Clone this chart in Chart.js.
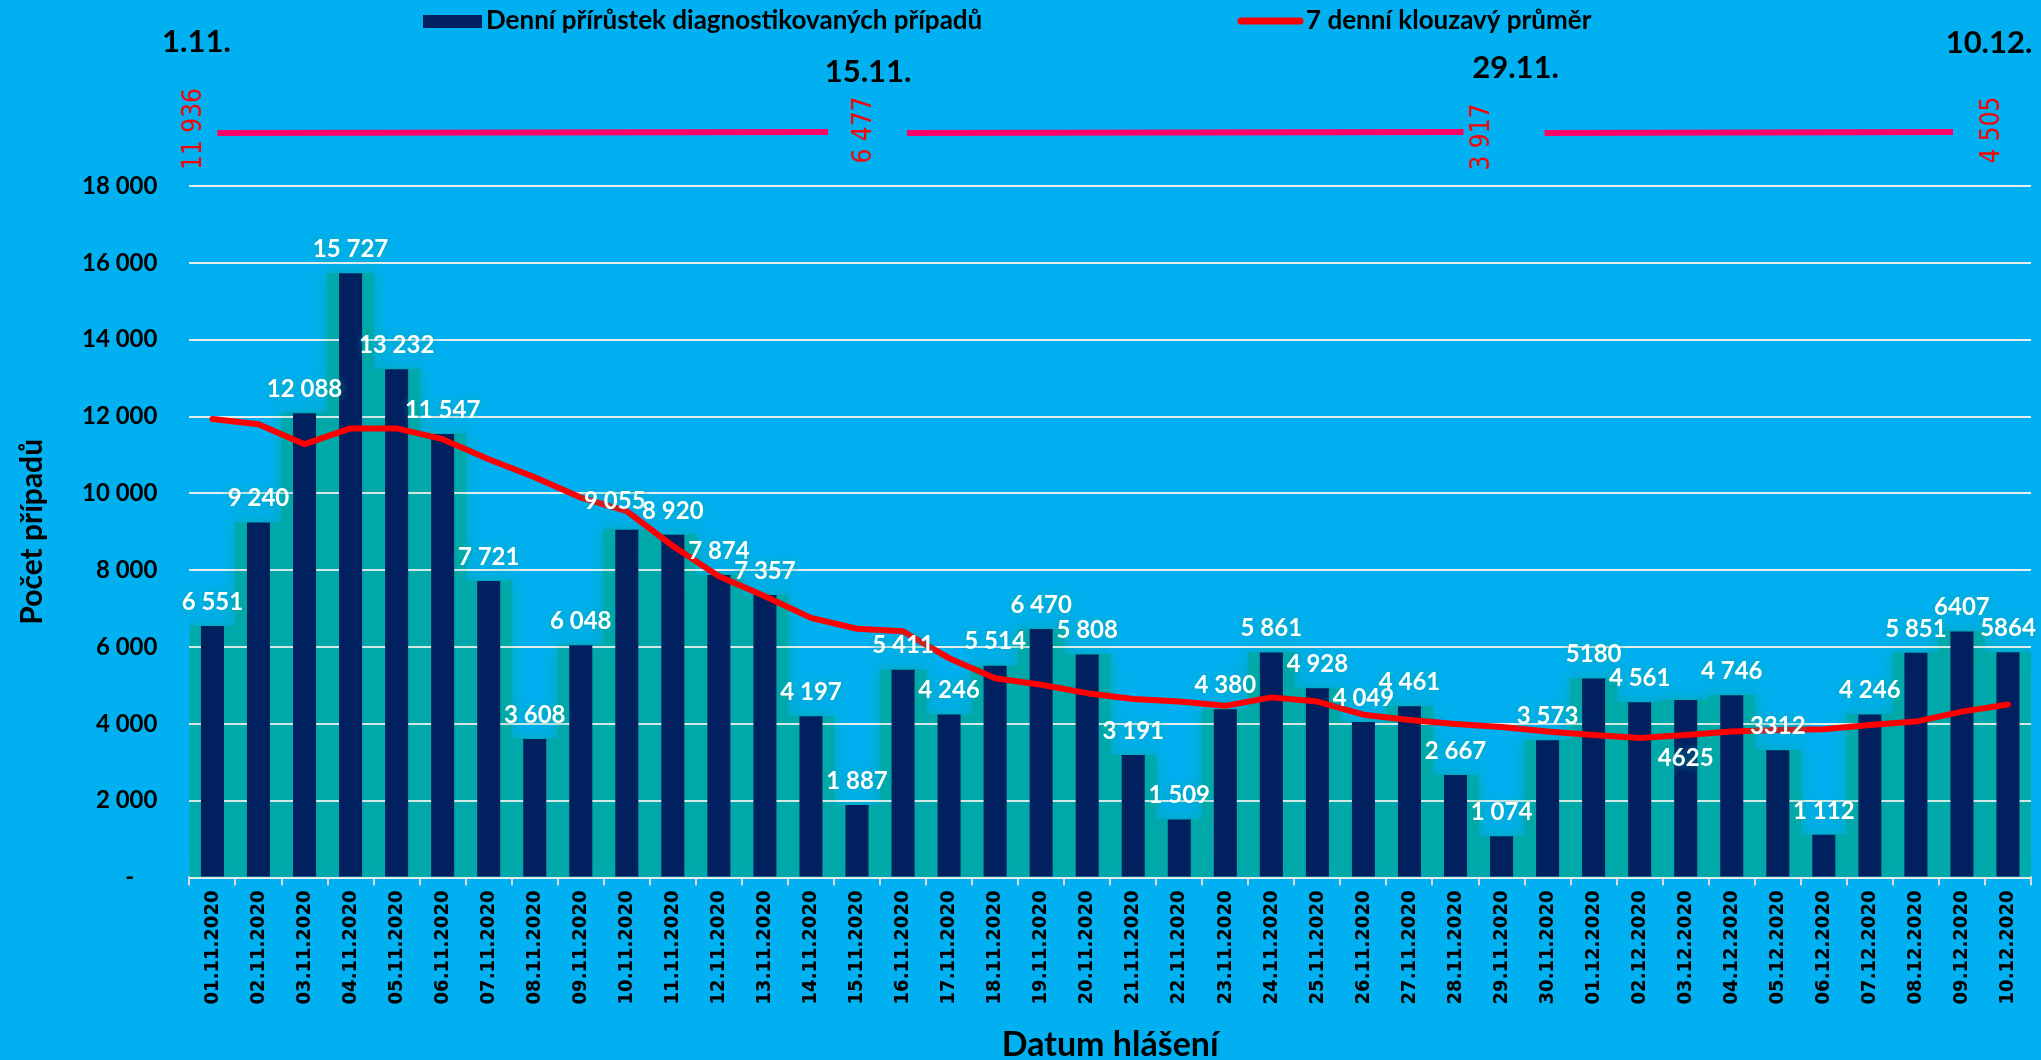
<!DOCTYPE html>
<html>
<head>
<meta charset="utf-8">
<script src="https://cdn.jsdelivr.net/npm/chart.js@4/dist/chart.umd.min.js"></script>
<style>
html, body { margin: 0; padding: 0; background: #00b0f0; overflow: hidden; }
canvas { display: block; }
</style>
</head>
<body>
<canvas id="chart" width="2041" height="1060"></canvas>
<script>
// data
const days = [
  "01.11.2020", "02.11.2020", "03.11.2020", "04.11.2020", "05.11.2020",
  "06.11.2020", "07.11.2020", "08.11.2020", "09.11.2020", "10.11.2020",
  "11.11.2020", "12.11.2020", "13.11.2020", "14.11.2020", "15.11.2020",
  "16.11.2020", "17.11.2020", "18.11.2020", "19.11.2020", "20.11.2020",
  "21.11.2020", "22.11.2020", "23.11.2020", "24.11.2020", "25.11.2020",
  "26.11.2020", "27.11.2020", "28.11.2020", "29.11.2020", "30.11.2020",
  "01.12.2020", "02.12.2020", "03.12.2020", "04.12.2020", "05.12.2020",
  "06.12.2020", "07.12.2020", "08.12.2020", "09.12.2020", "10.12.2020"
];
const cases = [
  6551, 9240, 12088, 15727, 13232, 11547, 7721, 3608, 6048, 9055,
  8920, 7874, 7357, 4197, 1887, 5411, 4246, 5514, 6470, 5808,
  3191, 1509, 4380, 5861, 4928, 4049, 4461, 2667, 1074, 3573,
  5180, 4561, 4625, 4746, 3312, 1112, 4246, 5851, 6407, 5864
];
const avg7 = [
  11936, 11800, 11280, 11690, 11690, 11410, 10890, 10420, 9890, 9540,
  8630, 7840, 7320, 6760, 6477, 6410, 5710, 5190, 5020, 4800,
  4650, 4580, 4470, 4690, 4580, 4240, 4100, 4000, 3917, 3800,
  3710, 3630, 3710, 3800, 3840, 3860, 3970, 4060, 4320, 4505
];
// labels written without the thousands space in the original
const plainLabels = [30, 32, 34, 38, 39];
// marked days at the top
const noteIdx = [0, 14, 28, 39];
const noteDates = ["1.11.", "15.11.", "29.11.", "10.12."];

const seriesNames = [
  "Denní přírůstek diagnostikovaných případů",
  "7 denní klouzavý průměr"
];

const NAVY = "#002060";
const TEAL = "rgba(0,168,166,0.9)";
const RED = "#ff0000";

function fmt(v){
    return String(v).replace(/\B(?=(\d{3})+(?!\d))/g, " ");
}

// teal glow behind bars, grid redrawn over it
const glowPlugin = {
    id: "glow",
    beforeDatasetDraw(chart, args){
        if(args.index === 0){
            chart.ctx.save();
            chart.ctx.shadowColor = "rgba(0,168,166,0.95)";
            chart.ctx.shadowBlur = 16;
        }
    },
    afterDatasetDraw(chart, args){
        if(args.index === 0){
            chart.ctx.restore();
            try {
                chart.scales.y.drawGrid(chart.chartArea);
            } catch(e){}
        }
    }
};

// value labels over bars
const barLabels = {
    id: "barLabels",
    afterDatasetsDraw(chart){
        const ctx = chart.ctx;
        const meta = chart.getDatasetMeta(1);
        ctx.save();
        ctx.font = "bold 24px Lato";
        ctx.textAlign = "center";
        ctx.textBaseline = "middle";
        ctx.fillStyle = "#ffffff";
        ctx.shadowColor = "rgba(0,168,166,0.9)";
        ctx.shadowBlur = 8;
        meta.data.forEach(function(bar, i){
            const v = cases[i];
            const text = plainLabels.includes(i) ? String(v) : fmt(v);
            let dx = 0;
            let dy = -24;
            if(i === 9){ dx = -12; dy = -28; }
            if(i === 32){ dy = 58; }
            ctx.fillText(text, bar.x + dx, bar.y + dy);
        });
        ctx.restore();
    }
};

// legend, dates and averages above the plot
const topNotes = {
    id: "topNotes",
    afterDraw(chart){
        const ctx = chart.ctx;
        const xs = chart.scales.x;
        ctx.save();

        // legend
        ctx.fillStyle = NAVY;
        ctx.fillRect(423, 15, 59, 13);
        ctx.strokeStyle = RED;
        ctx.lineWidth = 7;
        ctx.lineCap = "round";
        ctx.beginPath();
        ctx.moveTo(1241, 21);
        ctx.lineTo(1300, 21);
        ctx.stroke();
        ctx.fillStyle = "#000000";
        ctx.font = "bold 26px Lato";
        ctx.textAlign = "left";
        ctx.textBaseline = "middle";
        ctx.fillText(seriesNames[0], 486, 21);
        ctx.fillText(seriesNames[1], 1306, 21);

        const dateDx = [-16, 11, 14, -19];
        const dateY = [42, 72, 68, 43];
        const valDx = [-18, 7, -19, -16];
        const valY = [129, 130, 137, 130];
        const gaps = [[23, 36], [43, 19], [62, 39]];

        const valX = noteIdx.map(function(idx, k){
            return xs.getPixelForValue(idx) + valDx[k];
        });

        // pink connectors
        ctx.strokeStyle = "#ff0066";
        ctx.lineWidth = 6;
        ctx.lineCap = "butt";
        for(let k = 0; k < valX.length - 1; k++){
            ctx.beginPath();
            ctx.moveTo(valX[k] + gaps[k][0], 133);
            ctx.lineTo(valX[k + 1] - gaps[k][1], 132);
            ctx.stroke();
        }

        // dates
        ctx.fillStyle = "#000000";
        ctx.font = "bold 31px Lato";
        ctx.textAlign = "center";
        noteIdx.forEach(function(idx, k){
            ctx.fillText(noteDates[k], xs.getPixelForValue(idx) + dateDx[k], dateY[k]);
        });

        // rotated average values
        ctx.fillStyle = RED;
        ctx.font = "26px 'DejaVu Sans Condensed', 'DejaVu Sans'";
        noteIdx.forEach(function(idx, k){
            ctx.save();
            ctx.translate(valX[k], valY[k]);
            ctx.rotate(-Math.PI / 2);
            ctx.fillText(fmt(avg7[idx]), 0, 0);
            ctx.restore();
        });

        ctx.restore();
    }
};

document.addEventListener("DOMContentLoaded", function(){
    const ctx = document.getElementById("chart").getContext("2d");
    new Chart(ctx, {
        type: "bar",
        data: {
            labels: days,
            datasets: [
                {
                    label: "glow",
                    data: cases,
                    backgroundColor: TEAL,
                    grouped: false,
                    barPercentage: 1,
                    categoryPercentage: 1,
                    order: 3
                },
                {
                    label: seriesNames[0],
                    data: cases,
                    backgroundColor: NAVY,
                    grouped: false,
                    barPercentage: 0.5,
                    categoryPercentage: 1,
                    order: 2
                },
                {
                    type: "line",
                    label: seriesNames[1],
                    data: avg7,
                    borderColor: RED,
                    borderWidth: 6,
                    pointRadius: 0,
                    tension: 0,
                    borderJoinStyle: "round",
                    borderCapStyle: "round",
                    order: 1
                }
            ]
        },
        options: {
            responsive: false,
            animation: false,
            devicePixelRatio: 1,
            layout: {
                padding: { top: 186, right: 10, left: 10, bottom: 0 }
            },
            plugins: {
                legend: { display: false },
                tooltip: { enabled: false }
            },
            scales: {
                x: {
                    grid: {
                        display: true,
                        drawOnChartArea: false,
                        drawTicks: true,
                        tickLength: 8,
                        color: "#d9d9d9",
                        lineWidth: 2,
                        offset: true
                    },
                    border: { display: true, color: "#d9d9d9", width: 3 },
                    ticks: {
                        autoSkip: false,
                        maxRotation: 90,
                        minRotation: 90,
                        color: "#000000",
                        padding: 5,
                        font: { family: "'DejaVu Sans Condensed', 'DejaVu Sans'", weight: "bold", size: 20 }
                    },
                    title: {
                        display: true,
                        text: "Datum hlášení",
                        color: "#000000",
                        font: { family: "Lato", weight: "bold", size: 34, lineHeight: 0.9 },
                        padding: { top: 20, bottom: 0 }
                    }
                },
                y: {
                    min: 0,
                    max: 18000,
                    grid: {
                        color: "rgba(232,238,236,0.9)",
                        lineWidth: 2,
                        drawTicks: false
                    },
                    border: { display: false },
                    ticks: {
                        stepSize: 2000,
                        color: "#000000",
                        padding: 32,
                        font: { family: "Lato", weight: "bold", size: 24 },
                        callback: function(v){
                            return v === 0 ? "-    " : fmt(v);
                        }
                    },
                    title: {
                        display: true,
                        text: "Počet případů",
                        color: "#000000",
                        font: { family: "Lato", weight: "bold", size: 30 },
                        padding: { top: 4, bottom: 0 }
                    }
                }
            }
        },
        plugins: [glowPlugin, barLabels, topNotes]
    });
});
</script>
</body>
</html>
